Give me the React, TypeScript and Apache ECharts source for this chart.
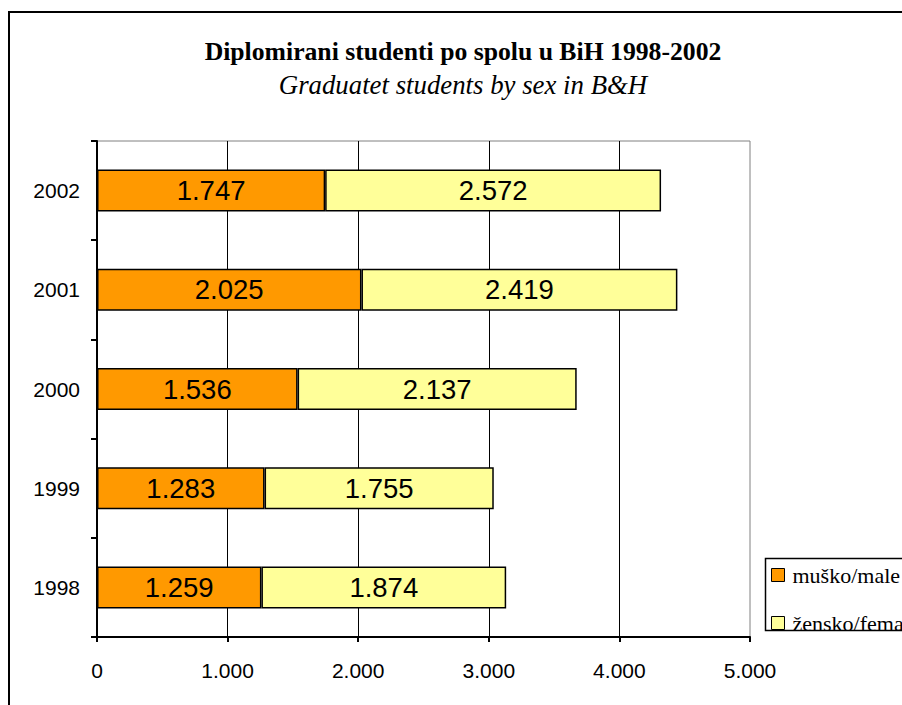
import React, { useEffect, useRef } from "react";
import * as echarts from "echarts";

const years = ["1998", "1999", "2000", "2001", "2002"];
const maleValues = [1259, 1283, 1536, 2025, 1747];
const femaleValues = [1874, 1755, 2137, 2419, 2572];
const seriesNames = ["muško/male", "žensko/female"];
const titleText = "Diplomirani studenti po spolu u BiH 1998-2002";
const subtitleText = "Graduatet students by sex in B&H";
const axisMin = 0;
const axisMax = 5000;
const axisStep = 1000;

const SANS = "'Liberation Sans', Arial, sans-serif";
const SERIF = "'Liberation Serif', 'Times New Roman', serif";

const fmt = (v: number) => String(v).replace(/\B(?=(\d{3})+(?!\d))/g, ".");

export default function App() {
  const ref = useRef<HTMLDivElement>(null);
  useEffect(() => {
    if (!ref.current) return;
    const chart = echarts.init(ref.current, undefined, { renderer: "svg" });
    const barLabel = {
      show: true,
      position: "inside",
      color: "#000",
      fontFamily: SANS,
      fontSize: 27.5,
      formatter: (p: any) => fmt(p.value),
    };
    chart.setOption({
      animation: false,
      backgroundColor: "#fff",
      title: [
        {
          text: titleText,
          left: 463,
          top: 38,
          textAlign: "center",
          padding: 0,
          textStyle: { fontFamily: SERIF, fontWeight: "bold", fontSize: 25.7, color: "#000" },
        },
        {
          text: subtitleText,
          left: 463,
          top: 71,
          textAlign: "center",
          padding: 0,
          textStyle: { fontFamily: SERIF, fontStyle: "italic", fontWeight: "normal", fontSize: 26.8, color: "#000" },
        },
      ],
      grid: {
        left: 97,
        top: 141,
        width: 653,
        height: 496,
        show: true,
        borderColor: "#808080",
        borderWidth: 1,
        backgroundColor: "transparent",
      },
      legend: {
        data: seriesNames,
        orient: "vertical",
        icon: "rect",
        left: 771,
        top: 564,
        padding: 0,
        itemGap: 26,
        itemWidth: 13,
        itemHeight: 13,
        itemStyle: { borderColor: "#000", borderWidth: 1 },
        textStyle: { fontFamily: SERIF, fontSize: 22, color: "#000", padding: [0, 0, 0, 3] },
      },
      xAxis: {
        type: "value",
        min: axisMin,
        max: axisMax,
        interval: axisStep,
        axisLine: { show: true, lineStyle: { color: "#000", width: 2 } },
        axisTick: { show: true, length: 5, lineStyle: { color: "#000", width: 2 } },
        splitLine: { show: true, showMaxLine: false, lineStyle: { color: "#000", width: 1 } },
        axisLabel: {
          color: "#000",
          fontFamily: SANS,
          fontSize: 21,
          margin: 23,
          formatter: (v: number) => fmt(v),
        },
      },
      yAxis: {
        type: "category",
        data: years,
        axisLine: { show: true, lineStyle: { color: "#000", width: 2 } },
        axisTick: { show: true, length: 6, lineStyle: { color: "#000", width: 2 } },
        axisLabel: { color: "#000", fontFamily: SANS, fontSize: 21, margin: 17 },
        splitLine: { show: false },
      },
      series: [
        {
          name: seriesNames[0],
          type: "bar",
          stack: "total",
          data: maleValues,
          barWidth: 42,
          itemStyle: { color: "#FF9900", borderColor: "#000", borderWidth: 1.5 },
          label: barLabel,
        },
        {
          name: seriesNames[1],
          type: "bar",
          stack: "total",
          data: femaleValues,
          barWidth: 42,
          itemStyle: { color: "#FFFF99", borderColor: "#000", borderWidth: 1.5 },
          label: barLabel,
        },
      ],
      graphic: [
        {
          type: "rect",
          z: 100,
          shape: { x: 764, y: 631, width: 200, height: 24 },
          style: { fill: "#fff", stroke: "none" },
        },
        {
          type: "rect",
          z: 101,
          shape: { x: 765.5, y: 558.5, width: 200, height: 72 },
          style: { fill: "none", stroke: "#000", lineWidth: 1.5 },
        },
        {
          type: "rect",
          z: 101,
          shape: { x: 9, y: 12, width: 1000, height: 1000 },
          style: { fill: "none", stroke: "#000", lineWidth: 2 },
        },
      ],
    });
    return () => chart.dispose();
  }, []);
  return (
    <div
      ref={ref}
      style={{ position: "fixed", left: 0, top: 0, width: 902, height: 705 }}
    />
  );
}
